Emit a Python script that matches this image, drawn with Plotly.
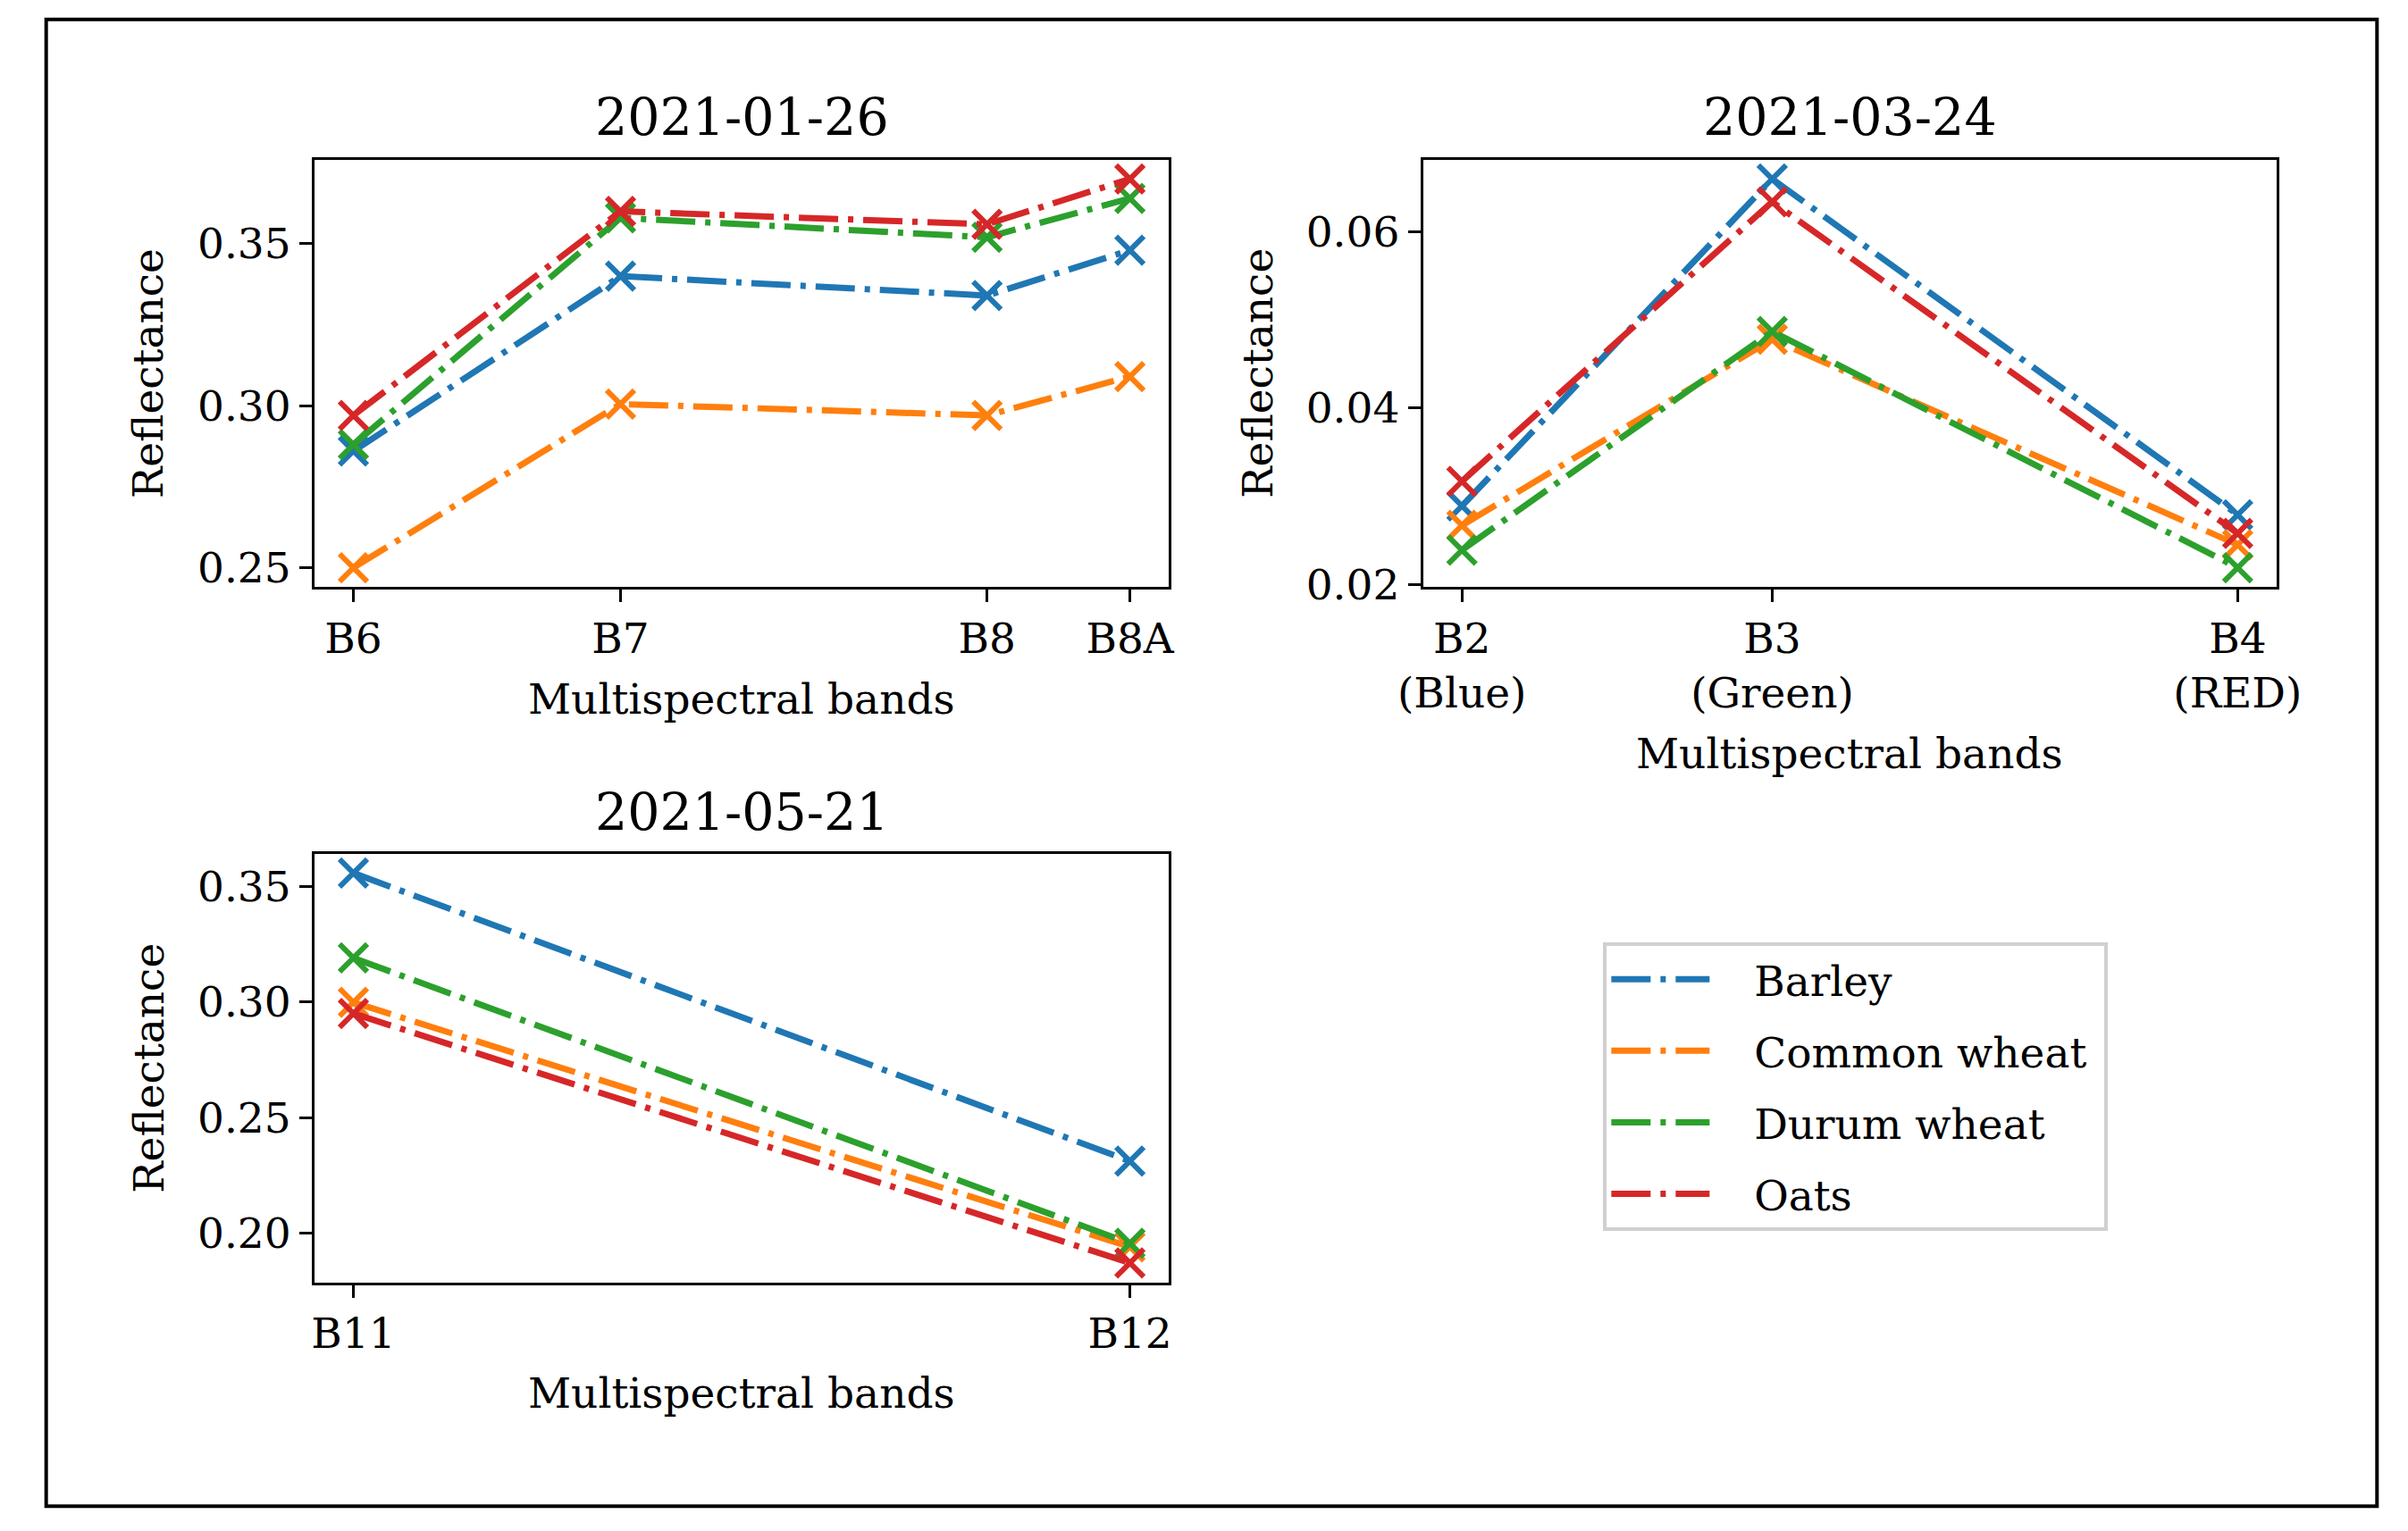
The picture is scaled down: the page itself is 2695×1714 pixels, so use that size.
import plotly.graph_objects as go

# ---- data ----
crops = ["Barley", "Common wheat", "Durum wheat", "Oats"]
colors = ["#1f77b4", "#ff7f0e", "#2ca02c", "#d62728"]

# Panel 1: 2021-01-26 (red-edge / NIR bands)
p1_title = "2021-01-26"
p1_bands = ["B6", "B7", "B8", "B8A"]
p1_wl = [740, 783, 842, 865]
p1_vals = {
    "Barley":       [0.286, 0.340, 0.334, 0.348],
    "Common wheat": [0.250, 0.3005, 0.297, 0.309],
    "Durum wheat":  [0.288, 0.358, 0.352, 0.364],
    "Oats":         [0.297, 0.360, 0.356, 0.370],
}
p1_yticks = [0.25, 0.30, 0.35]

# Panel 2: 2021-03-24 (visible bands)
p2_title = "2021-03-24"
p2_bands = ["B2<br>(Blue)", "B3<br>(Green)", "B4<br>(RED)"]
p2_wl = [490, 560, 665]
p2_vals = {
    "Barley":       [0.0289, 0.0660, 0.0279],
    "Common wheat": [0.0267, 0.0478, 0.0245],
    "Durum wheat":  [0.0239, 0.0487, 0.0219],
    "Oats":         [0.0317, 0.0634, 0.0258],
}
p2_yticks = [0.02, 0.04, 0.06]

# Panel 3: 2021-05-21 (SWIR bands)
p3_title = "2021-05-21"
p3_bands = ["B11", "B12"]
p3_wl = [1610, 2190]
p3_vals = {
    "Barley":       [0.3557, 0.2312],
    "Common wheat": [0.2998, 0.1942],
    "Durum wheat":  [0.3190, 0.1957],
    "Oats":         [0.2950, 0.1872],
}
p3_yticks = [0.20, 0.25, 0.30, 0.35]

xlabel = "Multispectral bands"
ylabel = "Reflectance"

# ---- style ----
FONT = "DejaVu Serif"
FS = 47
TFS = 57
LW = 7
DASH = "44px,11px,6px,11px"

W, H = 2695, 1714
dom_x = [(322 / W, 1299 / W), (1590 / W, 2566 / W), (322 / W, 1299 / W)]
dom_y = [(1 - 658.5 / H, 1 - 173 / H), (1 - 658.5 / H, 1 - 173 / H), (1 - 1448 / H, 1 - 961 / H)]

fig = go.Figure()

panels = [
    (p1_title, p1_bands, p1_wl, p1_vals, p1_yticks),
    (p2_title, p2_bands, p2_wl, p2_vals, p2_yticks),
    (p3_title, p3_bands, p3_wl, p3_vals, p3_yticks),
]


def padded(vals):
    lo, hi = min(vals), max(vals)
    m = (hi - lo) * 0.05
    return [lo - m, hi + m]


for i, (title, bands, wl, vals, yt) in enumerate(panels):
    sfx = "" if i == 0 else str(i + 1)
    for crop, col in zip(crops, colors):
        fig.add_trace(go.Scatter(
            x=wl, y=vals[crop], mode="lines+markers", name=crop,
            showlegend=False,
            line=dict(color=col, width=LW, dash=DASH),
            marker=dict(symbol="x-thin", size=31, line=dict(color=col, width=6)),
            xaxis="x" + sfx, yaxis="y" + sfx,
        ))
    allv = [v for c in crops for v in vals[c]]
    axcommon = dict(showline=True, linecolor="black", linewidth=3, mirror=True,
                    ticks="outside", ticklen=14, tickwidth=3, tickcolor="black",
                    showgrid=False, zeroline=False,
                    tickfont=dict(family=FONT, size=FS, color="black"))
    fig.layout["xaxis" + sfx] = dict(
        domain=list(dom_x[i]), anchor="y" + sfx, range=padded(wl),
        tickmode="array", tickvals=wl, ticktext=bands, **axcommon)
    fig.layout["yaxis" + sfx] = dict(
        domain=list(dom_y[i]), anchor="x" + sfx, range=padded(allv),
        tickmode="array", tickvals=yt, tickformat=".2f", **axcommon)

    cx = (dom_x[i][0] + dom_x[i][1]) / 2
    cy = (dom_y[i][0] + dom_y[i][1]) / 2
    title_y = [1 - 125 / H, 1 - 125 / H, 1 - 914 / H][i]
    xl_y = [1 - 786 / H, 1 - 847 / H, 1 - 1574 / H][i]
    yl_x = [132 / W, 1401 / W, 132 / W][i]
    fig.add_annotation(x=cx, y=title_y, xref="paper", yref="paper", text=title,
                       showarrow=False, xanchor="center", yanchor="middle",
                       font=dict(family=FONT, size=TFS, color="black"))
    fig.add_annotation(x=cx, y=xl_y, xref="paper", yref="paper", text=xlabel,
                       showarrow=False, xanchor="center", yanchor="middle",
                       font=dict(family=FONT, size=FS, color="black"))
    fig.add_annotation(x=yl_x, y=cy, xref="paper", yref="paper", text=ylabel,
                       showarrow=False, xanchor="center", yanchor="middle", textangle=-90,
                       font=dict(family=FONT, size=FS, color="black"))

# legend-only line entries (no markers, as in the reference)
for crop, col in zip(crops, colors):
    fig.add_trace(go.Scatter(
        x=[None], y=[None], mode="lines", name="\u00a0\u00a0\u00a0" + crop + "\u00a0",
        legendgroup=crop,
        line=dict(color=col, width=LW, dash=DASH), xaxis="x", yaxis="y",
    ))

fig.update_layout(
    width=W, height=H,
    margin=dict(l=0, r=0, t=0, b=0),
    paper_bgcolor="white", plot_bgcolor="white",
    showlegend=True,
    legend=dict(x=1796 / W, y=1 - 1062 / H, xanchor="left", yanchor="top",
                bordercolor="#d0d0d0", borderwidth=4, bgcolor="white",
                font=dict(family=FONT, size=FS, color="black"),
                itemwidth=110, tracegroupgap=16, traceorder="grouped"),
    shapes=[dict(type="rect", xref="paper", yref="paper",
                 x0=15 / W, x1=2681 / W, y0=1 - 1702 / H, y1=1 - 14 / H,
                 line=dict(color="black", width=4), fillcolor="rgba(0,0,0,0)")],
)

fig.write_html("out.html")
